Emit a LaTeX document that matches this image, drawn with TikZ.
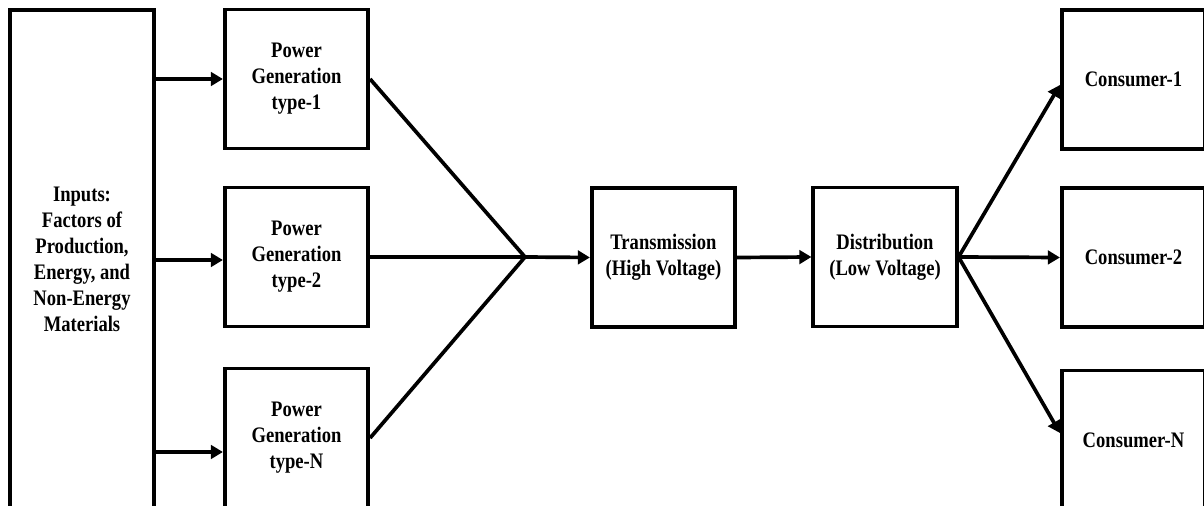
\documentclass[tikz,border=0pt]{standalone}
\usepackage{fontspec}
\setmainfont{Liberation Serif}[FakeStretch=0.84]
\usetikzlibrary{arrows.meta}

\begin{document}
\begin{tikzpicture}[x=0.02cm,y=-0.02cm,font=\bfseries\fontsize{12.6}{14.8}\selectfont]

\tikzstyle{unit}=[draw,line width=2.1pt,align=center,inner sep=0pt,minimum width=2.87cm,minimum height=2.78cm];
\tikzstyle{flow}=[-{Triangle[length=0.24cm,width=0.27cm]},line width=2.1pt];
\tikzstyle{feed}=[line width=2.1pt];

\clip (0,0) rectangle (1204,506);

\node[unit,minimum height=9.96cm] (v1) at (82,259) {Inputs:\\Factors of\\Production,\\Energy, and\\Non-Energy\\Materials};
\node[unit] (v2) at (296.5,79) {Power\\Generation\\type-1};
\node[unit] (v3) at (296.5,257) {Power\\Generation\\type-2};
\node[unit] (v4) at (296.5,438) {Power\\Generation\\type-N};
\coordinate (v5) at (525,257);
\node[unit] (v6) at (663.5,257.5) {Transmission\\(High Voltage)};
\node[unit] (v7) at (885,257) {Distribution\\(Low Voltage)};
\node[unit] (v8) at (1133.5,79.5) {Consumer-1};
\node[unit] (v9) at (1133.5,257.5) {Consumer-2};
\node[unit] (v10) at (1133.5,440) {Consumer-N};

\draw[flow] (v1.east |- v2.west) -- (v2.west);
\draw[flow] ([yshift=-0.06cm]v1.east |- v3.west) -- ([yshift=-0.06cm]v3.west);
\draw[flow] ([yshift=-0.28cm]v1.east |- v4.west) -- ([yshift=-0.28cm]v4.west);

\draw[feed] (v2.east) -- (v5);
\draw[feed,line width=2.8pt] (v3.east) -- (v5);
\draw[feed] (v4.east) -- (v5);
\draw[flow] (v5) -- (v6.west);

\draw[flow] (v6.east) -- (v7.west);

\draw[flow] (v7.east) -- ([yshift=-0.11cm]v8.west);
\draw[flow] (v7.east) -- (v9.west);
\draw[flow] (v7.east) -- ([yshift=0.14cm]v10.west);
\end{tikzpicture}
\end{document}
